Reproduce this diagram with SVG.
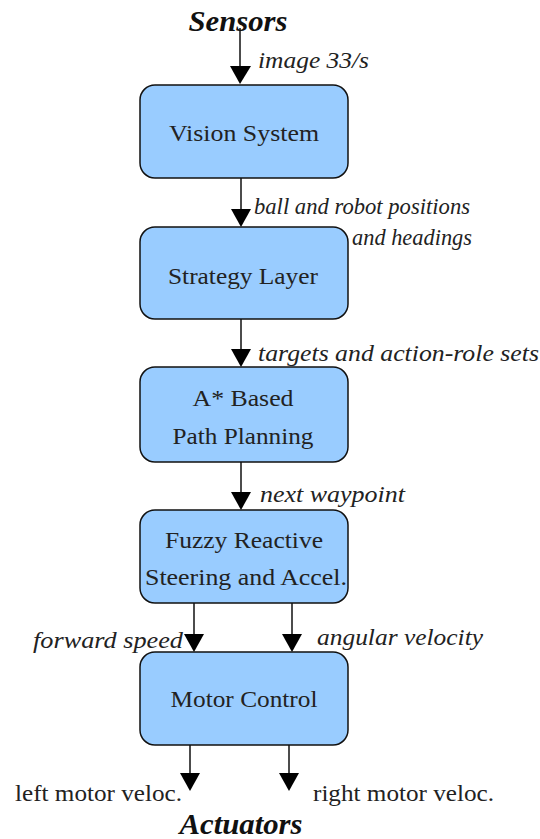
<svg xmlns="http://www.w3.org/2000/svg" width="540" height="839" viewBox="0 0 540 839">
<defs>
<style>
.box{fill:#99ccff;stroke:#111;stroke-width:1.5}
.t{font-size:24px;fill:#222;text-anchor:middle}
.lab{font-size:23px;font-style:italic;fill:#222}
.plain{font-size:23px;fill:#222}
.big{font-size:30px;font-style:italic;font-weight:bold;fill:#111;text-anchor:middle}
.c{stroke:#111;stroke-width:1.5;fill:none}
.ah{fill:#000}
</style>
</defs>
<rect width="540" height="839" fill="#fff"/>
<g font-family="Liberation Serif, Times New Roman, serif">
<text class="big" x="238" y="31" textLength="99" lengthAdjust="spacingAndGlyphs">Sensors</text>
<text class="big" x="241" y="834" textLength="123" lengthAdjust="spacingAndGlyphs">Actuators</text>
<g id="connectors">
<line class="c" x1="240" y1="28" x2="240" y2="70"/>
<polygon class="ah" points="230,66 251,66 240,84"/>
<line class="c" x1="241" y1="178" x2="241" y2="212"/>
<polygon class="ah" points="231,209 251,209 241,227"/>
<line class="c" x1="241" y1="319" x2="241" y2="352"/>
<polygon class="ah" points="231,349 251,349 241,367"/>
<line class="c" x1="241" y1="462" x2="241" y2="495"/>
<polygon class="ah" points="231,492 251,492 241,510"/>
<line class="c" x1="194" y1="603" x2="194" y2="637"/>
<polygon class="ah" points="184,634 204,634 194,652"/>
<line class="c" x1="292" y1="603" x2="292" y2="637"/>
<polygon class="ah" points="282,634 302,634 292,652"/>
<line class="c" x1="190" y1="745" x2="190" y2="776"/>
<polygon class="ah" points="180,773 200,773 190,791"/>
<line class="c" x1="289" y1="745" x2="289" y2="776"/>
<polygon class="ah" points="279,773 299,773 289,791"/>
<text class="lab" x="258" y="68" textLength="111" lengthAdjust="spacingAndGlyphs">image 33/s</text>
<text class="lab" x="254" y="214" textLength="216" lengthAdjust="spacingAndGlyphs">ball and robot positions</text>
<text class="lab" x="352" y="245" textLength="120" lengthAdjust="spacingAndGlyphs">and headings</text>
<text class="lab" x="258" y="361" textLength="281" lengthAdjust="spacingAndGlyphs">targets and action-role sets</text>
<text class="lab" x="260" y="502" textLength="145" lengthAdjust="spacingAndGlyphs">next waypoint</text>
<text class="lab" x="33" y="648" textLength="150" lengthAdjust="spacingAndGlyphs">forward speed</text>
<text class="lab" x="317" y="645" textLength="166" lengthAdjust="spacingAndGlyphs">angular velocity</text>
<text class="plain" x="15" y="801" textLength="167" lengthAdjust="spacingAndGlyphs">left motor veloc.</text>
<text class="plain" x="313" y="801" textLength="181" lengthAdjust="spacingAndGlyphs">right motor veloc.</text>
</g>
<g id="vision">
<rect class="box" x="140" y="85" width="208" height="93" rx="15"/>
<text class="t" x="244" y="141" textLength="150" lengthAdjust="spacingAndGlyphs">Vision System</text>
</g>
<g id="strategy">
<rect class="box" x="140" y="227" width="208" height="92" rx="15"/>
<text class="t" x="243" y="284" textLength="150" lengthAdjust="spacingAndGlyphs">Strategy Layer</text>
</g>
<g id="astar">
<rect class="box" x="140" y="367" width="208" height="95" rx="15"/>
<text class="t" x="243" y="406" textLength="101" lengthAdjust="spacingAndGlyphs">A* Based</text>
<text class="t" x="243" y="444" textLength="141" lengthAdjust="spacingAndGlyphs">Path Planning</text>
</g>
<g id="fuzzy">
<rect class="box" x="140" y="510" width="208" height="93" rx="15"/>
<text class="t" x="244" y="548" textLength="158" lengthAdjust="spacingAndGlyphs">Fuzzy Reactive</text>
<text class="t" x="246" y="585" textLength="202" lengthAdjust="spacingAndGlyphs">Steering and Accel.</text>
</g>
<g id="motor">
<rect class="box" x="140" y="652" width="208" height="93" rx="15"/>
<text class="t" x="244" y="707" textLength="147" lengthAdjust="spacingAndGlyphs">Motor Control</text>
</g>
</g>
</svg>
